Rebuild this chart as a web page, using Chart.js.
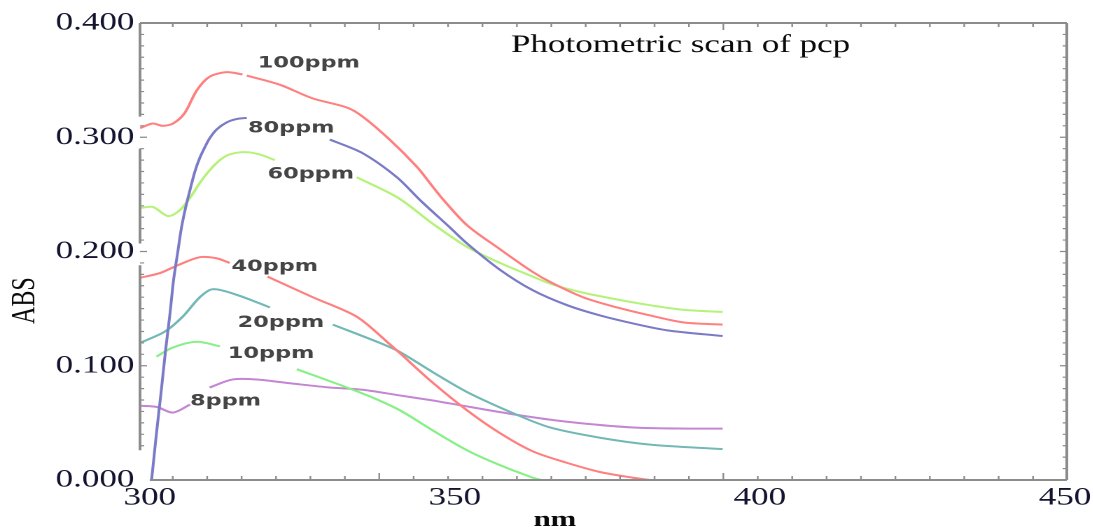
<!DOCTYPE html>
<html>
<head>
<meta charset="utf-8">
<script src="https://cdn.jsdelivr.net/npm/chart.js@4.4.1/dist/chart.umd.min.js"></script>
<style>
    html, body { margin: 0; padding: 0; background: #fff; overflow: hidden; }
    #wrap { width: 1093px; height: 527px; overflow: hidden; }
    /* the source picture is stretched sideways, so draw it narrow and widen it */
    #scan { transform: scaleX(1.4); transform-origin: 0 0; }
</style>
</head>
<body>
<div id="wrap"><canvas id="scan" width="781" height="527"></canvas></div>
<script>
// axis labels
const xTicks = [300, 350, 400, 450];
const yTicks = [0, 0.1, 0.2, 0.3, 0.4];

// wavelength (nm) / absorbance per concentration, null = break where a label sits
const wl100 = [298.4, 300.5, 302.1, 303.8, 305.7, 307.7, 309.8, 312.6, 315.2, 315.5, 315.9, 321.3, 326.7, 332.3, 334.9, 339.3, 343.8, 345.9, 348.0, 352.0, 357.4, 362.8, 366.1, 371.0, 376.6, 382.0, 387.4, 393.9];
const abs100 = [0.308, 0.312, 0.310, 0.312, 0.321, 0.341, 0.353, 0.357, 0.355, null, 0.354, 0.346, 0.334, 0.326, 0.318, 0.298, 0.274, 0.260, 0.246, 0.223, 0.202, 0.182, 0.172, 0.160, 0.151, 0.144, 0.138, 0.136];

const wl80 = [300.3, 301.1, 301.9, 302.6, 303.3, 303.9, 304.6, 305.2, 305.9, 306.6, 307.4, 308.2, 309.0, 309.8, 311.0, 312.6, 314.3, 315.9, 322.0, 329.5, 334.9, 340.5, 344.3, 349.2, 352.0, 357.4, 362.8, 368.4, 373.8, 379.2, 384.8, 393.9];
const abs80 = [0.0, 0.041, 0.079, 0.114, 0.145, 0.175, 0.200, 0.221, 0.239, 0.254, 0.270, 0.282, 0.291, 0.299, 0.307, 0.313, 0.316, 0.317, null, 0.298, 0.286, 0.265, 0.245, 0.221, 0.207, 0.184, 0.166, 0.153, 0.144, 0.137, 0.131, 0.126];

const wl60 = [298.4, 300.5, 303.0, 304.9, 306.6, 308.2, 309.8, 311.5, 313.1, 315.6, 318.0, 320.5, 327.0, 333.9, 340.7, 346.2, 352.0, 357.4, 362.8, 366.1, 371.0, 376.6, 382.0, 387.4, 393.9];
const abs60 = [0.238, 0.239, 0.231, 0.236, 0.247, 0.260, 0.271, 0.280, 0.285, 0.287, 0.285, 0.280, null, 0.265, 0.247, 0.225, 0.204, 0.190, 0.178, 0.171, 0.164, 0.158, 0.153, 0.149, 0.147];

const wl40 = [298.4, 301.6, 304.6, 308.2, 311.0, 313.1, 316.0, 319.3, 326.7, 333.9, 339.3, 341.0, 346.2, 352.0, 357.4, 362.8, 368.4, 373.8, 379.2, 382.0];
const abs40 = [0.177, 0.181, 0.188, 0.195, 0.194, 0.190, null, 0.178, 0.160, 0.143, 0.119, 0.111, 0.086, 0.061, 0.041, 0.025, 0.015, 0.007, 0.002, 0.0];

const wl20 = [298.4, 302.5, 305.4, 308.2, 310.3, 314.3, 319.7, 325.0, 330.0, 337.7, 341.0, 346.2, 352.0, 360.2, 365.6, 373.8, 382.0, 393.9];
const abs20 = [0.120, 0.130, 0.143, 0.160, 0.167, 0.162, 0.151, null, 0.136, 0.120, 0.112, 0.095, 0.077, 0.057, 0.046, 0.037, 0.031, 0.027];

const wl10 = [301.1, 303.8, 307.7, 311.5, 318.0, 324.1, 332.3, 336.6, 341.0, 346.2, 352.0, 357.4, 362.8, 364.2];
const abs10 = [0.108, 0.116, 0.121, 0.117, null, 0.097, 0.081, 0.072, 0.061, 0.044, 0.026, 0.013, 0.002, 0.0];

const wl8 = [298.4, 301.1, 303.8, 306.6, 308.2, 309.8, 313.6, 317.5, 324.1, 329.5, 334.9, 341.0, 345.9, 349.2, 360.2, 368.4, 379.2, 389.0, 393.9];
const abs8 = [0.065, 0.064, 0.059, 0.066, null, 0.081, 0.088, 0.088, 0.084, 0.081, 0.079, 0.074, 0.070, 0.067, 0.057, 0.051, 0.046, 0.045, 0.045];

// curve labels, anchored in data units (left edge, baseline)
const curveLabels = [
    { text: '100ppm', nm: 317.7, abs: 0.361 },
    { text: '80ppm', nm: 316.1, abs: 0.304 },
    { text: '60ppm', nm: 319.3, abs: 0.264 },
    { text: '40ppm', nm: 313.4, abs: 0.183 },
    { text: '20ppm', nm: 314.4, abs: 0.134 },
    { text: '10ppm', nm: 312.8, abs: 0.107 },
    { text: '8ppm', nm: 306.6, abs: 0.065 }
];

const SERIF = '"Liberation Serif", "Times New Roman", serif';

function points(wl, abs) {
    return wl.map((x, i) => ({ x: x, y: abs[i] }));
}

function trace(label, wl, abs, color) {
    return {
        label: label,
        data: points(wl, abs),
        borderColor: color,
        borderWidth: 2,
        pointRadius: 0,
        fill: false,
        spanGaps: false,
        tension: 0.3
    };
}

// frame, inward ticks, curve labels and titles
const decor = {
    id: 'decor',
    afterDatasetsDraw(chart) {
        const ctx = chart.ctx;
        const a = chart.chartArea;
        const x = chart.scales.x;
        const y = chart.scales.y;
        ctx.save();

        // frame
        ctx.strokeStyle = '#8c8c8c';
        ctx.lineWidth = 2;
        ctx.beginPath();
        ctx.moveTo(a.left, a.top);
        ctx.lineTo(a.right, a.top);
        ctx.moveTo(x.getPixelForValue(300), a.bottom);
        ctx.lineTo(a.right, a.bottom);
        ctx.moveTo(a.right, a.top);
        ctx.lineTo(a.right, a.bottom);
        [[0.4, 0.318], [0.290, 0.207], [0.188, 0.026]].forEach(seg => {
            ctx.moveTo(a.left, y.getPixelForValue(seg[0]));
            ctx.lineTo(a.left, y.getPixelForValue(seg[1]));
        });
        ctx.stroke();

        // small ticks pointing inside
        ctx.lineWidth = 1.2;
        ctx.beginPath();
        for (let k = 0; k <= 25; k++) {
            const px = x.getPixelForValue(303.77 + k * 5.64);
            const len = k % 10 === 6 ? 7 : 4;
            ctx.moveTo(px, a.bottom);
            ctx.lineTo(px, a.bottom - len);
            ctx.moveTo(px, a.top);
            ctx.lineTo(px, a.top + len);
        }
        for (let k = 1; k < 40; k++) {
            const py = y.getPixelForValue(k / 100);
            const len = k % 10 === 0 ? 5 : 3;
            ctx.moveTo(a.right, py);
            ctx.lineTo(a.right - len, py);
            if (k >= 3) {
                ctx.moveTo(a.left, py);
                ctx.lineTo(a.left + len, py);
            }
        }
        ctx.stroke();

        // curve labels
        ctx.fillStyle = '#454545';
        ctx.font = 'bold 16px "DejaVu Sans", sans-serif';
        ctx.textAlign = 'left';
        ctx.textBaseline = 'alphabetic';
        curveLabels.forEach(l => {
            ctx.fillText(l.text, x.getPixelForValue(l.nm), y.getPixelForValue(l.abs));
        });

        // title inside the plot
        ctx.fillStyle = '#0a0a0a';
        ctx.font = '25px ' + SERIF;
        ctx.fillText('Photometric scan of pcp', x.getPixelForValue(359.2), y.getPixelForValue(0.3746));

        // axis titles
        ctx.font = 'bold 22px ' + SERIF;
        ctx.textAlign = 'center';
        ctx.fillText('nm', x.getPixelForValue(366.4), 526);

        ctx.font = '24px ' + SERIF;
        ctx.translate(18, y.getPixelForValue(0.157));
        ctx.rotate(-Math.PI / 2);
        ctx.textBaseline = 'middle';
        ctx.fillText('ABS', 0, 0);

        ctx.restore();
    }
};

const ctx = document.getElementById('scan').getContext('2d');
const chart = new Chart(ctx, {
    type: 'line',
    data: {
        datasets: [
            trace('100ppm', wl100, abs100, '#ff7f7f'),
            trace('80ppm', wl80, abs80, '#7a7ac6'),
            trace('60ppm', wl60, abs60, '#b5f27a'),
            trace('40ppm', wl40, abs40, '#ff7f7f'),
            trace('20ppm', wl20, abs20, '#72b8b4'),
            trace('10ppm', wl10, abs10, '#86f086'),
            trace('8ppm', wl8, abs8, '#c486d2')
        ]
    },
    options: {
        responsive: false,
        animation: false,
        devicePixelRatio: 2,
        layout: { padding: { top: 23, right: 19, left: 0, bottom: 0 } },
        plugins: {
            legend: { display: false },
            tooltip: { enabled: false }
        },
        scales: {
            x: {
                type: 'linear',
                min: 298.4,
                max: 450.3,
                grid: { display: false, drawTicks: false },
                border: { display: false },
                afterBuildTicks: s => { s.ticks = xTicks.map(v => ({ value: v })); },
                afterFit: s => { s.height = 47; s.paddingLeft = 0; s.paddingRight = 0; },
                ticks: {
                    padding: 3,
                    maxRotation: 0,
                    color: '#141430',
                    font: { family: SERIF, size: 25 },
                    callback: v => String(v)
                }
            },
            y: {
                min: 0,
                max: 0.4,
                grid: { display: false, drawTicks: false },
                border: { display: false },
                afterBuildTicks: s => { s.ticks = yTicks.map(v => ({ value: v })); },
                afterFit: s => { s.width = 100; s.paddingTop = 0; s.paddingBottom = 0; },
                ticks: {
                    padding: 4,
                    color: '#141430',
                    font: { family: SERIF, size: 25 },
                    callback: v => Number(v).toFixed(3)
                }
            }
        }
    },
    plugins: [decor]
});
</script>
</body>
</html>
